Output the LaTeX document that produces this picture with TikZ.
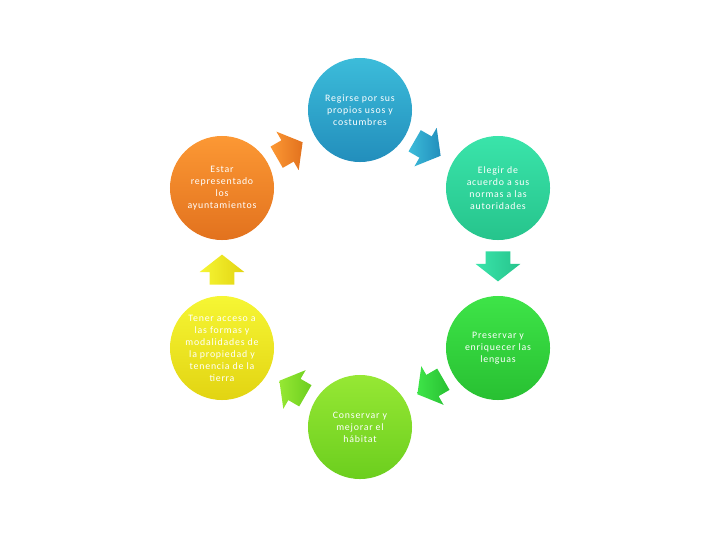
\documentclass[tikz,border=0pt]{standalone}
\usepackage{fontspec}
\newfontfamily\diagfont[LetterSpace=8]{Carlito}
\usetikzlibrary{shapes.arrows}
\usetikzlibrary{calc}

\definecolor{blueTop}{RGB}{60,188,218}
\definecolor{blueBot}{RGB}{34,142,188}
\definecolor{tealTop}{RGB}{58,228,170}
\definecolor{tealBot}{RGB}{38,196,140}
\definecolor{greenTop}{RGB}{62,228,72}
\definecolor{greenBot}{RGB}{40,192,50}
\definecolor{limeTop}{RGB}{150,232,52}
\definecolor{limeBot}{RGB}{108,206,30}
\definecolor{yellowTop}{RGB}{246,246,52}
\definecolor{yellowBot}{RGB}{226,212,18}
\definecolor{orangeTop}{RGB}{252,152,52}
\definecolor{orangeBot}{RGB}{226,114,30}

\begin{document}
\begin{tikzpicture}[x = 0.025cm, y = -0.025cm, font=\diagfont\fontsize{7}{8.5}\selectfont]
	\tikzstyle{stageStyle}=[shape = circle, minimum size = 2.6cm, inner sep = 0pt, text = white, align = center]
	\tikzstyle{flowStyle}=[shape = single arrow, minimum height = 0.75cm, inner xsep = 0pt, inner ysep = 0.3cm, single arrow head extend = 0.25cm, single arrow tip angle = 104]
	\useasboundingbox (0,0) rectangle (720,540);
	\node[stageStyle, top color = blueTop, bottom color = blueBot] (v0) at (360,110) {Regirse por sus\\propios usos y\\costumbres};
	\node[stageStyle, top color = tealTop, bottom color = tealBot] (v1) at (498,188) {Elegir de\\acuerdo a sus\\normas a las\\autoridades};
	\node[stageStyle, top color = greenTop, bottom color = greenBot] (v2) at (498,348) {Preservar y\\enriquecer las\\lenguas};
	\node[stageStyle, top color = limeTop, bottom color = limeBot] (v3) at (360,427) {Conservar y\\mejorar el\\hábitat};
	\node[stageStyle, top color = yellowTop, bottom color = yellowBot] (v4) at (222,348) {Tener acceso a\\las formas y\\modalidades de\\la propiedad y\\tenencia de la\\tierra};
	\node[stageStyle, top color = orangeTop, bottom color = orangeBot] (v5) at (222,188) {Estar\\representado\\los\\ayuntamientos};
	% arrows between the stages
	\node[flowStyle, rotate = -30, left color = blueTop, right color = blueBot] (a0) at ($(v0)!0.46!(v1)$) {};
	\node[flowStyle, rotate = -90, left color = tealTop, right color = tealBot] (a1) at ($(v1)!0.46!(v2)$) {};
	\node[flowStyle, rotate = -150, left color = greenTop, right color = greenBot] (a2) at ($(v2)!0.46!(v3)$) {};
	\node[flowStyle, rotate = 150, left color = limeTop, right color = limeBot] (a3) at ($(v3)!0.46!(v4)$) {};
	\node[flowStyle, rotate = 90, left color = yellowTop, right color = yellowBot] (a4) at ($(v4)!0.46!(v5)$) {};
	\node[flowStyle, rotate = 30, left color = orangeTop, right color = orangeBot] (a5) at ($(v5)!0.46!(v0)$) {};
\end{tikzpicture}
\end{document}
